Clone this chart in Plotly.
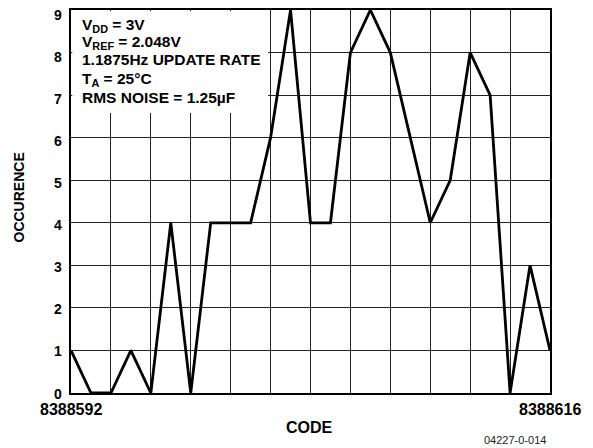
import plotly.graph_objects as go

codes = list(range(8388592, 8388617))
occurrence = [1, 0, 0, 1, 0, 4, 0, 4, 4, 4, 6, 9, 4, 4, 8, 9, 8, 6, 4, 5, 8, 7, 0, 3, 1]
x_tick_vals = list(range(8388592, 8388617, 2))
x_tick_labels = {8388592: "8388592", 8388616: "8388616"}
y_tick_vals = list(range(0, 10))
info_lines = [
    "V<sub>DD</sub> = 3V",
    "V<sub>REF</sub> = 2.048V",
    "1.1875Hz UPDATE RATE",
    "T<sub>A</sub> = 25°C",
    "RMS NOISE = 1.25µF",
]

# page body has an 8px default margin: shrink the figure to compensate
OFF = 8
W, H = 593 - OFF, 448 - OFF
L, R, T, B = 71, 550, 10, 393  # plot area in reference pixels


def px(x):
    return (x - L) / (R - L)


def py(y):
    return (B - y) / (B - T)


FONT = "Liberation Sans, Arial, sans-serif"

fig = go.Figure()
fig.add_trace(go.Scatter(
    x=codes, y=occurrence, mode="lines",
    line=dict(color="black", width=2.8),
    showlegend=False, hoverinfo="skip",
))

fig.update_layout(
    width=W, height=H,
    margin=dict(l=L - OFF, r=593 - R, t=T - OFF, b=448 - B, autoexpand=False),
    paper_bgcolor="white", plot_bgcolor="white",
    font=dict(family=FONT, color="black"),
    xaxis=dict(
        range=[codes[0], codes[-1]],
        tickvals=x_tick_vals, showticklabels=False,
        showgrid=True, gridcolor="#222", gridwidth=1.2,
        showline=True, linecolor="black", linewidth=2, mirror=True,
        ticks="", automargin=False,
        zeroline=False,
    ),
    yaxis=dict(
        range=[0, 9], tickvals=y_tick_vals, showticklabels=False,
        showgrid=True, gridcolor="#222", gridwidth=1.2,
        showline=True, linecolor="black", linewidth=2, mirror=True,
        ticks="", automargin=False,
        zeroline=False,
    ),
    shapes=[dict(
        type="rect", xref="paper", yref="paper",
        x0=px(72.3), x1=px(268), y0=py(113), y1=py(11.3),
        fillcolor="white", line=dict(width=0), layer="above",
    )],
)

annos = []
# y tick labels (sit slightly below their gridlines, as in the reference)
for v in y_tick_vals:
    ylab = 393.5 - v * (393.5 - 14.5) / 9
    annos.append(dict(
        text="<b>%d</b>" % v, xref="paper", yref="paper",
        x=px(64), y=py(ylab), xanchor="right", yanchor="middle",
        showarrow=False, font=dict(size=14, family=FONT, color="black"),
    ))
for val, lab in x_tick_labels.items():
    annos.append(dict(
        text="<b>" + lab + "</b>", xref="x", yref="paper",
        x=val, y=py(409), xanchor="center", yanchor="middle",
        showarrow=False, font=dict(size=16, family=FONT, color="black"),
    ))
line_y = [26, 43, 60, 79, 97]
for txt, yy in zip(info_lines, line_y):
    annos.append(dict(
        text="<b>" + txt + "</b>", xref="paper", yref="paper",
        x=px(80), y=py(yy), xanchor="left", yanchor="middle",
        showarrow=False, font=dict(size=15.5, family=FONT, color="black"),
        align="left",
    ))
annos.append(dict(
    text="<b>OCCURENCE</b>", xref="paper", yref="paper",
    x=px(18.5), y=py(198), xanchor="center", yanchor="middle",
    textangle=-90, showarrow=False, font=dict(size=14, family=FONT),
))
annos.append(dict(
    text="<b>CODE</b>", xref="paper", yref="paper",
    x=px(309), y=py(427), xanchor="center", yanchor="middle",
    showarrow=False, font=dict(size=16, family=FONT),
))
annos.append(dict(
    text="04227-0-014", xref="paper", yref="paper",
    x=px(515), y=py(440), xanchor="center", yanchor="middle",
    showarrow=False, font=dict(size=11, family=FONT, color="#222"),
))
fig.update_layout(annotations=annos)

fig.write_html("out.html")
